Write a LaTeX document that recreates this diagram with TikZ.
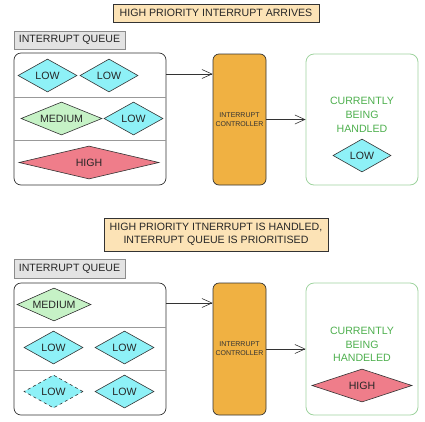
\documentclass[tikz,border=0pt]{standalone}
\usepackage{fontspec}
\setmainfont{Liberation Sans}
\usetikzlibrary{shapes.geometric,arrows.meta}
\definecolor{cyanfill}{HTML}{8EF1F7}
\definecolor{greenfill}{HTML}{C6F2C6}
\definecolor{redfill}{HTML}{EF7D8A}
\definecolor{ctrlfill}{HTML}{F0B142}
\definecolor{titlefill}{HTML}{FCE3B6}
\definecolor{labelfill}{HTML}{E3E3E3}
\definecolor{handledborder}{HTML}{9ED39E}
\definecolor{greentext}{HTML}{4DAF4D}
\definecolor{darkline}{HTML}{333333}
\tikzset{
  txt/.style={font=\fontsize{10.6}{13}\selectfont, text=black!85},
  titlebox/.style={draw=darkline, fill=titlefill, line width=0.7pt, inner sep=0pt, txt, align=center},
  labelbox/.style={draw=black!45, fill=labelfill, line width=0.7pt, inner sep=0pt, txt},
  queuebox/.style={draw=darkline, line width=0.7pt, rounded corners=7pt, inner sep=0pt},
  ctrlbox/.style={draw=darkline, fill=ctrlfill, line width=0.7pt, rounded corners=6pt, inner sep=0pt,
    font=\fontsize{7}{9}\selectfont, text=black!80, align=center},
  handledbox/.style={draw=handledborder, line width=0.8pt, rounded corners=8pt, inner sep=0pt},
  divider/.style={draw=black!40, line width=0.7pt},
  dia/.style={diamond, aspect=2.5, inner sep=0pt, draw=darkline, line width=0.6pt, txt, minimum height=33pt},
  lowd/.style={dia, fill=cyanfill, minimum width=59pt},
  medd/.style={dia, fill=greenfill},
  highd/.style={dia, fill=redfill},
  greenlbl/.style={font=\fontsize{10.6}{13}\selectfont, text=greentext, inner sep=0pt},
  arr/.style={draw=darkline, line width=0.6pt, -{Straight Barb[length=10pt,width=9pt,line width=0.6pt]}},
}
\begin{document}
\begin{tikzpicture}[x=1pt,y=-1pt]
\useasboundingbox (0,0) rectangle (425,421);
% ---------------- top panel ----------------
\node[titlebox, minimum width=206pt, minimum height=18pt] (t1) at (216,13) {HIGH PRIORITY INTERRUPT ARRIVES};
\node[labelbox, minimum width=111pt, minimum height=18pt] (lb1) at (69.5,40) {INTERRUPT QUEUE};
\node[queuebox, minimum width=152pt, minimum height=132pt] (q1) at (90,119) {};
\draw[divider] (q1.west |- 0,97) -- (q1.east |- 0,97);
\draw[divider] (q1.west |- 0,140) -- (q1.east |- 0,140);
\node[lowd] (a1) at (47.5,75.5) {LOW};
\node[lowd, minimum width=58pt] (a2) at (109,75.5) {LOW};
\node[medd, minimum width=81pt] (a3) at (61.5,118.5) {MEDIUM};
\node[lowd] (a4) at (133.5,118.5) {LOW};
\node[highd, minimum width=140pt] (a5) at (89,162.5) {HIGH};
\node[ctrlbox, minimum width=53pt, minimum height=131pt] (c1) at (239.5,119.5) {INTERRUPT\\CONTROLLER};
\node[handledbox, minimum width=112pt, minimum height=131pt] (h1) at (362,119.5) {};
\node[greenlbl] (g1a) at (362,101) {CURRENTLY};
\node[greenlbl] (g1b) at (362,115) {BEING};
\node[greenlbl] (g1c) at (362,129) {HANDLED};
\node[lowd, minimum width=58pt] (hd1) at (362,155.5) {LOW};
\coordinate (s1) at (166,74);
\draw[arr] (s1) -- (s1 -| c1.west);
\draw[arr] (c1) -- (h1);
% ---------------- bottom panel ----------------
\node[titlebox, minimum width=224pt, minimum height=33pt] (t2) at (216,234.5) {HIGH PRIORITY ITNERRUPT IS HANDLED,\\INTERRUPT QUEUE IS PRIORITISED};
\node[labelbox, minimum width=111pt, minimum height=19pt] (lb2) at (69.5,268.5) {INTERRUPT QUEUE};
\node[queuebox, minimum width=152pt, minimum height=132pt] (q2) at (90,349) {};
\draw[divider] (q2.west |- 0,327) -- (q2.east |- 0,327);
\draw[divider] (q2.west |- 0,370) -- (q2.east |- 0,370);
\node[medd, minimum width=74pt] (b1) at (54,304.5) {MEDIUM};
\node[lowd] (b2) at (53.5,347.5) {LOW};
\node[lowd] (b3) at (124.5,347.5) {LOW};
\node[lowd, dashed] (b4) at (53.5,391.5) {LOW};
\node[lowd] (b5) at (124.5,391.5) {LOW};
\node[ctrlbox, minimum width=53pt, minimum height=132pt] (c2) at (239.5,349) {INTERRUPT\\CONTROLLER};
\node[handledbox, minimum width=112pt, minimum height=132pt] (h2) at (362,349) {};
\node[greenlbl] (g2a) at (362,331) {CURRENTLY};
\node[greenlbl] (g2b) at (362,345) {BEING};
\node[greenlbl] (g2c) at (362,358) {HANDELED};
\node[highd, minimum width=100pt] (hd2) at (362,385.5) {HIGH};
\coordinate (s2) at (166,303);
\draw[arr] (s2) -- (s2 -| c2.west);
\draw[arr] (c2) -- (h2);
\end{tikzpicture}
\end{document}
